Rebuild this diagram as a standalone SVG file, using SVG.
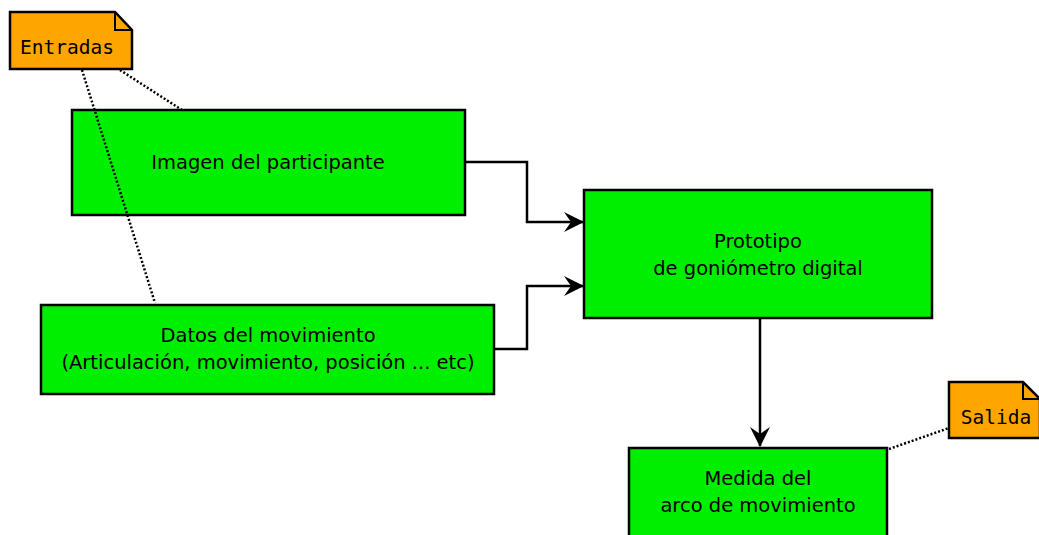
<svg xmlns="http://www.w3.org/2000/svg" width="1039" height="535" viewBox="0 0 1039 535">
  <defs>
    <style>
      .box { fill: #00ee00; stroke: #000; stroke-width: 2.5; }
      .note { fill: #ffa500; stroke: #000; stroke-width: 2.5; }
      .fold { fill: none; stroke: #000; stroke-width: 2; }
      .lbl { font-family: "DejaVu Sans", sans-serif; font-size: 19.5px; fill: #000; text-anchor: middle; }
      .nlbl { font-family: "DejaVu Sans Mono", monospace; font-size: 19.5px; fill: #000; text-anchor: middle; }
      .flow { fill: none; stroke: #000; stroke-width: 2.5; }
      .dot { fill: none; stroke: #000; stroke-width: 2.5; stroke-dasharray: 2 2; }
    </style>
    <marker id="arrow" viewBox="0 0 20 22" refX="19" refY="11" markerWidth="20" markerHeight="22" markerUnits="userSpaceOnUse" orient="auto">
      <path d="M0,1 L20,11 L0,21 L7,11 Z" fill="#000"/>
    </marker>
  </defs>
  <rect width="1039" height="535" fill="#fff"/>

  <g id="imagen">
    <rect class="box" x="72" y="110" width="393" height="105"/>
    <text class="lbl" x="268" y="169">Imagen del participante</text>
  </g>

  <g id="datos">
    <rect class="box" x="41" y="305" width="453" height="89"/>
    <text class="lbl" x="268" y="342">Datos del movimiento</text>
    <text class="lbl" x="268" y="369">(Articulación, movimiento, posición ... etc)</text>
  </g>

  <g id="prototipo">
    <rect class="box" x="584" y="190" width="348" height="128"/>
    <text class="lbl" x="758" y="248">Prototipo</text>
    <text class="lbl" x="758" y="275">de goniómetro digital</text>
  </g>

  <g id="medida">
    <rect class="box" x="629" y="448" width="258" height="100"/>
    <text class="lbl" x="758" y="485">Medida del</text>
    <text class="lbl" x="758" y="512">arco de movimiento</text>
  </g>

  <g id="entradas">
    <path class="note" d="M10,12 H115 L132,30 V69 H10 Z"/>
    <path class="fold" d="M115,12 V30 H132"/>
    <text class="nlbl" x="67" y="54">Entradas</text>
  </g>

  <g id="salida">
    <path class="note" d="M949,382 H1023 L1040,399 V438 H949 Z"/>
    <path class="fold" d="M1023,382 V399 H1040"/>
    <text class="nlbl" x="996" y="424">Salida</text>
  </g>

  <g id="connectors">
    <path class="flow" d="M465,162 H527 V222 H583" marker-end="url(#arrow)"/>
    <path class="flow" d="M494,349 H527 V286 H583" marker-end="url(#arrow)"/>
    <path class="flow" d="M760,318 V446" marker-end="url(#arrow)"/>
    <path class="dot" d="M82,70 L155,303"/>
    <path class="dot" d="M120,70 L182,110"/>
    <path class="dot" d="M889,449 L949,428"/>
  </g>
</svg>
